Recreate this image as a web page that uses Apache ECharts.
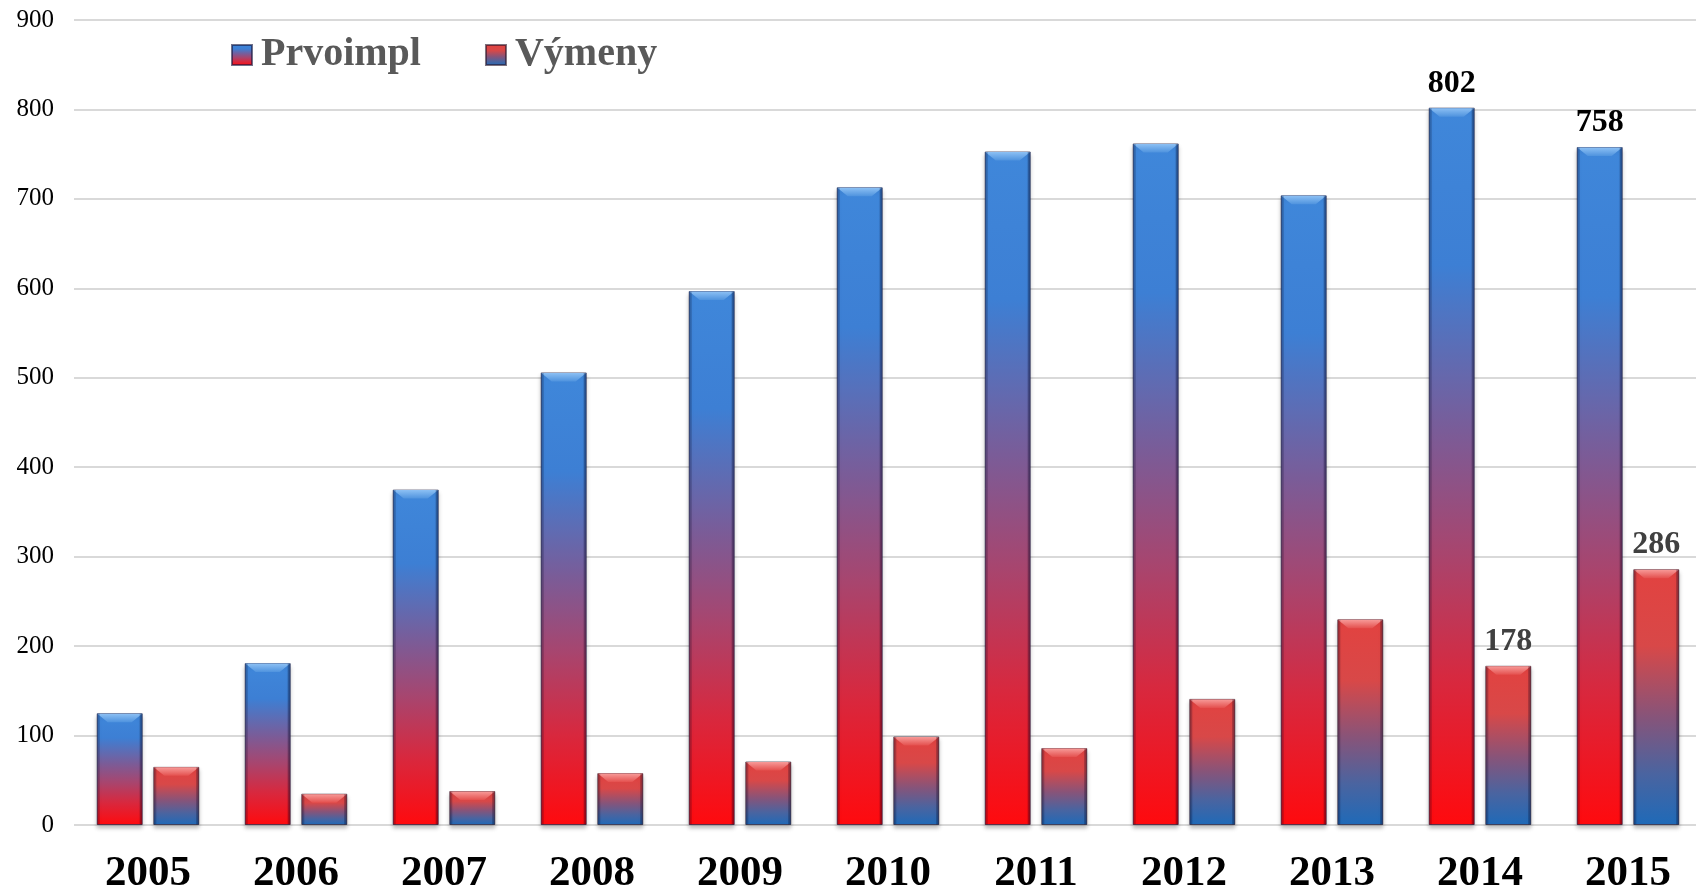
<!DOCTYPE html>
<html>
<head>
<meta charset="utf-8">
<style>
html,body{margin:0;padding:0;background:#fff;}
#chart{width:1696px;height:890px;}
</style>
<script src="https://cdn.jsdelivr.net/npm/echarts@6/dist/echarts.min.js"></script>
</head>
<body>
<div id="chart"></div>
<script>
const categories = ['2005','2006','2007','2008','2009','2010','2011','2012','2013','2014','2015'];
const prvoimpl = [125, 181, 375, 506, 597, 713, 753, 762, 704, 802, 758];
const vymeny = [65, 35, 38, 58, 71, 99, 86, 141, 230, 178, 286];
const labeledPrvoimpl = ['2014', '2015'];
const labeledVymeny = ['2014', '2015'];
const yTicks = [0, 100, 200, 300, 400, 500, 600, 700, 800, 900];

const BAR_W = 46;
const BAR_GAP = 0.23;

const blueRed = new echarts.graphic.LinearGradient(0, 0, 0, 1, [
  {offset: 0, color: '#3f87da'},
  {offset: 0.22, color: '#3d7fd4'},
  {offset: 0.45, color: '#7a5c98'},
  {offset: 0.62, color: '#a8456e'},
  {offset: 0.8, color: '#d8283e'},
  {offset: 1, color: '#ff0a0e'}
]);
const redBlue = new echarts.graphic.LinearGradient(0, 0, 0, 1, [
  {offset: 0, color: '#e24240'},
  {offset: 0.3, color: '#d84848'},
  {offset: 0.58, color: '#86547a'},
  {offset: 0.8, color: '#4a64a0'},
  {offset: 1, color: '#1f6ab8'}
]);

const chart = echarts.init(document.getElementById('chart'), null, {renderer: 'canvas'});

function labelFor(list, color) {
  return {
    show: true,
    position: 'top',
    distance: 8,
    fontFamily: 'Liberation Serif',
    fontWeight: 'bold',
    fontSize: 32,
    color: color,
    formatter: p => list.indexOf(p.name) >= 0 ? String(p.value) : ''
  };
}

// bevel highlight on top of each bar, positioned through the axis scales
function bevelSeries(values, seriesIdx, capTop, capBottom) {
  return {
    type: 'custom',
    silent: true,
    z: 5,
    clip: false,
    data: values.map((v, i) => [i, v]),
    encode: {x: 0, y: 1},
    renderItem: function (params, api) {
      const idx = api.value(0);
      const val = api.value(1);
      const top = api.coord([idx, val]);
      const base = api.coord([idx, 0]);
      const off = (BAR_W * (1 + BAR_GAP)) / 2 * (seriesIdx === 0 ? -1 : 1);
      const cx = top[0] + off;
      const x0 = cx - BAR_W / 2, x1 = cx + BAR_W / 2;
      const y = top[1];
      const h = Math.min(9, (base[1] - y) / 2);
      const inset = 11;
      return {
        type: 'group',
        children: [
          {
            type: 'polygon',
            shape: {points: [[x0 + 0.5, y + 0.5], [x1 - 0.5, y + 0.5], [x1 - inset, y + h], [x0 + inset, y + h]]},
            style: {fill: new echarts.graphic.LinearGradient(0, 0, 0, 1, [
              {offset: 0, color: capTop}, {offset: 1, color: capBottom}
            ])}
          },
          {
            type: 'rect',
            shape: {x: x0 + 0.5, y: y + 0.5, width: 2.5, height: base[1] - y - 1},
            style: {fill: 'rgba(0,0,30,0.22)'}
          },
          {
            type: 'rect',
            shape: {x: x1 - 3, y: y + 0.5, width: 2.5, height: base[1] - y - 1},
            style: {fill: 'rgba(0,0,30,0.3)'}
          }
        ]
      };
    }
  };
}

const option = {
  animation: false,
  backgroundColor: '#ffffff',
  grid: {left: 74, right: -6, top: 20, bottom: 65, containLabel: false, outerBoundsMode: 'none'},
  legend: {
    left: 226, top: 30,
    itemWidth: 20, itemHeight: 20, itemGap: 64,
    icon: 'rect',
    textStyle: {fontFamily: 'Liberation Serif', fontWeight: 'bold', fontSize: 40, color: '#595959', padding: [0,0,0,4]},
    data: ['Prvoimpl', 'Výmeny']
  },
  xAxis: {
    type: 'category',
    data: categories,
    axisLine: {show: false},
    axisTick: {show: false},
    axisLabel: {fontFamily: 'Liberation Serif', fontWeight: 'bold', fontSize: 43, color: '#000', margin: 27}
  },
  yAxis: {
    type: 'value',
    min: 0, max: 900, interval: 100,
    axisLine: {show: false},
    axisTick: {show: false},
    splitLine: {lineStyle: {color: '#d9d9d9', width: 2}},
    axisLabel: {
      fontFamily: 'Liberation Serif', fontSize: 25, color: '#000', margin: 20,
      formatter: v => yTicks.indexOf(v) >= 0 ? String(v) : ''
    }
  },
  series: [
    {
      name: 'Prvoimpl',
      type: 'bar',
      data: prvoimpl,
      barWidth: BAR_W,
      barGap: (BAR_GAP * 100) + '%',
      itemStyle: {color: blueRed, borderColor: 'rgba(20,20,60,0.6)', borderWidth: 1,
        shadowColor: 'rgba(0,0,0,0.25)', shadowBlur: 4, shadowOffsetY: 3},
      label: labelFor(labeledPrvoimpl, '#000000')
    },
    {
      name: 'Výmeny',
      type: 'bar',
      data: vymeny,
      barWidth: BAR_W,
      itemStyle: {color: redBlue, borderColor: 'rgba(40,20,40,0.6)', borderWidth: 1,
        shadowColor: 'rgba(0,0,0,0.25)', shadowBlur: 4, shadowOffsetY: 3},
      label: labelFor(labeledVymeny, '#404040')
    },
    bevelSeries(prvoimpl, 0, '#8cc0f4', '#4f93de'),
    bevelSeries(vymeny, 1, '#f79a98', '#e4504e')
  ]
};
chart.setOption(option);
</script>
</body>
</html>
